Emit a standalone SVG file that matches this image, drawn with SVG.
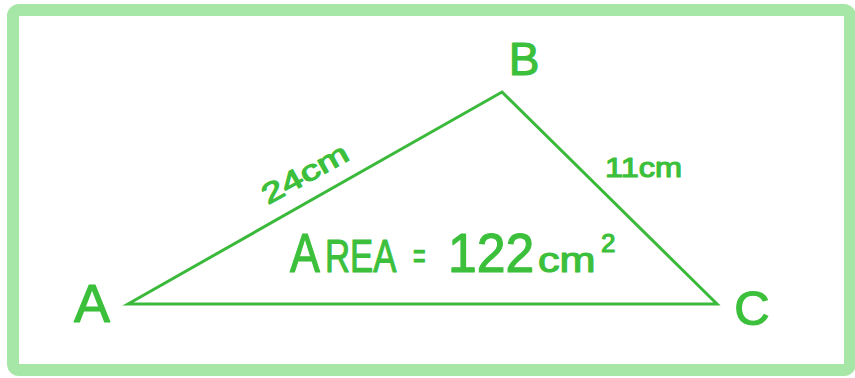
<svg xmlns="http://www.w3.org/2000/svg" width="855" height="378" viewBox="0 0 855 378">
  <style>
    .lbl { font-family: "Liberation Sans", Arial, sans-serif; fill: #3cc03c; stroke: #3cc03c; stroke-width: 1.2; stroke-linejoin: round; }
    .edge { fill: none; stroke: #3ab93a; stroke-width: 3; stroke-linejoin: miter; }
  </style>
  <rect x="0" y="0" width="855" height="378" fill="#ffffff"/>
  <g id="frame">
    <rect x="13" y="10" width="837" height="360" rx="6" fill="#ffffff" stroke="#a6e6a6" stroke-width="12"/>
  </g>
  <g id="connectors">
    <polygon class="edge" points="128,304 502,92 717,304"/>
  </g>
  <g id="vertex-A">
    <text class="lbl" x="92" y="322" font-size="54" text-anchor="middle">A</text>
  </g>
  <g id="vertex-B">
    <text class="lbl" x="524" y="75" font-size="46" text-anchor="middle">B</text>
  </g>
  <g id="vertex-C">
    <text class="lbl" x="752" y="325" font-size="49" text-anchor="middle">C</text>
  </g>
  <g id="label-AB">
    <text class="lbl" x="268" y="205" font-size="28" textLength="95" lengthAdjust="spacingAndGlyphs" transform="rotate(-29 268 205)">24cm</text>
  </g>
  <g id="label-BC">
    <text class="lbl" x="605" y="177" font-size="28" textLength="77" lengthAdjust="spacingAndGlyphs">11cm</text>
  </g>
  <g id="label-area">
    <text class="lbl" transform="translate(290 272) scale(0.8 1)" font-size="56">A</text>
    <text class="lbl" transform="translate(325 272) scale(0.74 1)" font-size="47">REA</text>
    <text class="lbl" transform="translate(413 268) scale(0.6 1)" font-size="36">=</text>
    <text class="lbl" transform="translate(448 272) scale(0.94 1)" font-size="55">122</text>
    <text class="lbl" transform="translate(538 272) scale(1.2 1)" font-size="36">cm</text>
    <text class="lbl" x="601" y="252" font-size="26">2</text>
  </g>
</svg>
